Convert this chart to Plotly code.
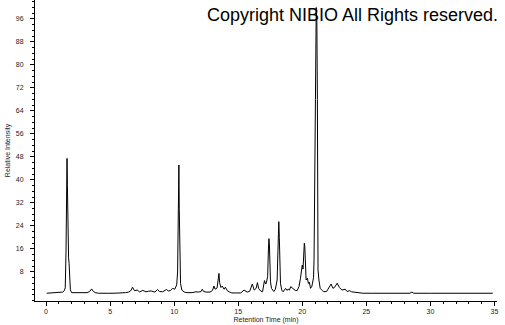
import plotly.graph_objects as go

# Retention time (min) and relative intensity
time_min = [
    0.05, 0.3, 0.6, 0.9, 1.17, 1.3, 1.43, 1.5, 1.56, 1.58, 1.61, 1.64, 1.67, 1.69, 1.72, 1.76, 1.80, 1.84, 1.90,
    2.0, 2.3, 2.6, 2.9, 3.2, 3.4, 3.56, 3.7, 3.85, 4.1, 4.5, 4.9, 5.3, 5.6, 5.9, 6.2, 6.45, 6.62, 6.75, 6.9,
    7.15, 7.3, 7.55, 7.8, 8.0, 8.2, 8.5, 8.7, 8.85, 9.1, 9.4, 9.55, 9.7, 9.87, 10.05, 10.2, 10.27, 10.31, 10.34,
    10.37, 10.40, 10.44, 10.47, 10.5, 10.6, 10.8, 11.0, 11.4, 11.7, 11.9, 12.1, 12.2, 12.3, 12.5, 12.8, 13.0,
    13.1, 13.2, 13.35, 13.45, 13.5, 13.55, 13.65, 13.75, 13.9, 14.0, 14.15, 14.3, 14.5, 14.8, 15.0, 15.2, 15.45,
    15.7, 15.9, 16.05, 16.1, 16.25, 16.4, 16.5, 16.6, 16.75, 16.9, 17.05, 17.15, 17.2, 17.3, 17.36, 17.40, 17.44,
    17.48, 17.52, 17.6, 17.78, 17.9, 18.04, 18.10, 18.13, 18.17, 18.21, 18.26, 18.30, 18.40, 18.5, 18.7, 18.8,
    18.9, 19.0, 19.1, 19.3, 19.45, 19.6, 19.75, 19.86, 19.95, 20.0, 20.06, 20.12, 20.16, 20.2, 20.25, 20.3, 20.4,
    20.48, 20.55, 20.65, 20.75, 20.82, 20.88, 20.92, 20.96, 21.03, 21.09, 21.14, 21.18, 21.21, 21.23, 21.3, 21.4,
    21.55, 21.67, 21.9, 22.0, 22.1, 22.25, 22.4, 22.55, 22.72, 22.9, 23.1, 23.35, 23.5, 23.7, 23.85, 24.0, 24.2,
    24.5, 24.75, 25.5, 26.5, 27.5, 28.4, 28.56, 28.7, 30.0, 31.5, 33.0, 34.87,
]
rel_intensity = [
    0.6, 0.7, 0.7, 0.8, 1.0, 1.0, 1.5, 2.5, 15, 34.8, 34, 47.5, 38, 26, 25, 12.9, 11, 4, 1.8,
    0.8, 0.8, 0.9, 0.8, 0.8, 1.2, 2.1, 1.2, 0.8, 0.6, 0.7, 0.6, 0.6, 0.6, 0.8, 0.8, 1.0, 1.5, 2.7, 1.5,
    1.7, 1.0, 1.6, 1.1, 1.3, 1.4, 1.0, 1.9, 1.2, 1.1, 1.9, 1.4, 1.5, 2.3, 2.0, 3.5, 8, 42.3, 42.5,
    45.2, 30, 16.2, 6, 4, 1.7, 1.0, 0.8, 0.8, 1.1, 1.0, 1.2, 2.0, 1.2, 1.0, 1.0, 1.6,
    3.1, 2.0, 2.4, 5, 7.5, 4.3, 2.6, 3.1, 2.0, 2.7, 1.5, 1.1, 0.7, 0.7, 0.8, 0.7, 1.7,
    1.0, 1.3, 3.2, 3.8, 1.7, 2.3, 4.3, 2.2, 1.4, 1.1, 5.0, 3.8, 4.2, 6.5, 16, 19.6, 17,
    8, 4.6, 2.3, 1.2, 2.0, 5.2, 15, 22, 25.5, 20, 8, 4.1, 1.7, 1.1, 2.3, 1.6,
    2.0, 1.7, 2.9, 2.0, 1.6, 1.5, 3, 5.8, 8, 10.4, 9, 16, 18, 16.8, 8, 5.2, 5.8,
    4, 4.5, 2.3, 3, 4.8, 6, 12, 46, 68, 100, 95, 68, 40, 8.7, 5.2, 2.3,
    1.6, 1.15, 1.2, 2.1, 2.5, 3.8, 2.3, 2.8, 4.1, 2.6, 1.7, 2.0, 1.2, 1.5, 1.1, 1.0, 1.1,
    0.9, 0.6, 0.6, 0.6, 0.6, 0.6, 1.0, 0.6, 0.6, 0.6, 0.6, 0.6,
]

x_tick_vals = [0, 5, 10, 15, 20, 25, 30, 35]
y_tick_vals = [8, 16, 24, 32, 40, 48, 56, 64, 72, 80, 88, 96]

FONT = "Liberation Sans, Arial, sans-serif"

fig = go.Figure()
fig.add_trace(go.Scatter(
    x=time_min, y=rel_intensity, mode="lines",
    line=dict(color="black", width=1), showlegend=False, hoverinfo="skip",
))

fig.update_layout(
    width=505, height=325,
    margin=dict(l=35, r=8, t=0, b=24),
    paper_bgcolor="white", plot_bgcolor="white",
    font=dict(family=FONT, size=7, color="#222"),
    xaxis=dict(
        range=[-0.86, 35.2], showgrid=False, zeroline=False,
        showline=True, linecolor="black", linewidth=1,
        tickmode="array", tickvals=x_tick_vals,
        ticks="outside", ticklen=4, tickwidth=1, tickcolor="black",
        minor=dict(dtick=1, tick0=0, ticks="outside", ticklen=2, tickcolor="black", showgrid=False),
        title=dict(text="Retention Time (min)", font=dict(size=7, color="#222"), standoff=2),
        tickfont=dict(size=7),
    ),
    yaxis=dict(
        range=[-2.1, 102.6], showgrid=False, zeroline=False,
        showline=True, linecolor="black", linewidth=1,
        tickmode="array", tickvals=y_tick_vals,
        ticks="outside", ticklen=4, tickwidth=1, tickcolor="black",
        ticklabelstandoff=5,
        minor=dict(dtick=2, tick0=0, ticks="outside", ticklen=2, tickcolor="black", showgrid=False),
        title=dict(text="Relative Intensity", font=dict(size=7, color="#222"), standoff=4),
        tickfont=dict(size=7),
    ),
    annotations=[dict(
        text="Copyright NIBIO All Rights reserved.", xref="paper", yref="paper",
        x=1.0, y=(301 - 15) / 301, xanchor="right", yanchor="middle", showarrow=False,
        xshift=3,
        font=dict(family=FONT, size=18, color="black"),
    )],
)

fig.write_html("out.html")
